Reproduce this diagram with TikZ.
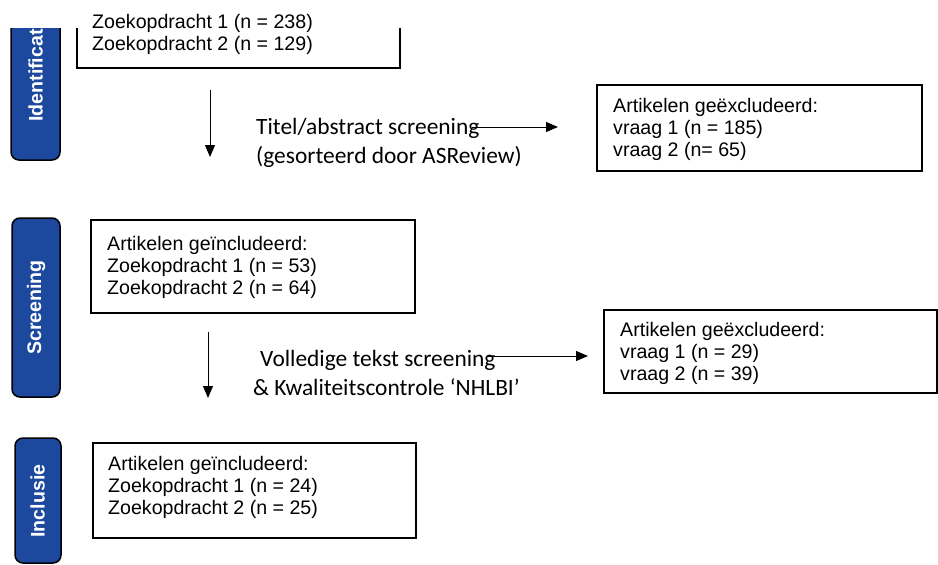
\documentclass[tikz,border=0pt]{standalone}
\usepackage{fontspec}
\setmainfont{Liberation Sans}
\newfontfamily\calibrifont{Carlito}
\usetikzlibrary{arrows.meta}
\definecolor{barblue}{RGB}{28,72,158}
\begin{document}
\begin{tikzpicture}[x=1pt,y=-1pt,
  box/.style={draw=black,line width=1.8pt,inner sep=0pt,anchor=north west},
  bar/.style={draw=black,fill=barblue,line width=1.5pt,rounded corners=8pt},
  arial/.style={font=\fontsize{19.6}{22}\selectfont,anchor=base west,inner sep=0pt},
  cal/.style={font=\calibrifont\fontsize{23.4}{28}\selectfont,anchor=base west,inner sep=0pt},
  bartext/.style={font=\bfseries\fontsize{19.6}{22}\selectfont,text=white,rotate=90,inner sep=0pt},
  flow/.style={line width=1pt,-{Triangle[length=12pt,width=10pt]}}]
\useasboundingbox[fill=white] (0,0) rectangle (938,565);

% clipped top part
\begin{scope}
  \clip (0,28) rectangle (938,565);
  \draw[bar] (11,-20) rectangle (60,160);
  \node[bartext,anchor=west] (lid) at (35.5,122) {Identification};
  \node[box,minimum width=323pt,minimum height=107pt] (b0) at (76,-40) {};
\end{scope}
\node[arial] (t0a) at (92,28) {Zoekopdracht 1 (n = 238)};
\node[arial] (t0b) at (92,50) {Zoekopdracht 2 (n = 129)};

% bars
\draw[bar] (12,218) rectangle (60,397);
\node[bartext] (lsc) at (36,307.5) {Screening};
\draw[bar] (15,438) rectangle (61,563);
\node[bartext] (lin) at (37.5,501) {Inclusie};

% boxes
\node[box,minimum width=325pt,minimum height=86pt] (b1) at (596,84) {};
\node[arial] (t1a) at (613,112) {Artikelen geëxcludeerd:};
\node[arial] (t1b) at (613,134) {vraag 1 (n = 185)};
\node[arial] (t1c) at (613,156) {vraag 2 (n= 65)};

\node[box,minimum width=324pt,minimum height=93pt] (b2) at (90,219) {};
\node[arial] (t2a) at (107,250) {Artikelen geïncludeerd:};
\node[arial] (t2b) at (107,272) {Zoekopdracht 1 (n = 53)};
\node[arial] (t2c) at (107,294) {Zoekopdracht 2 (n = 64)};

\node[box,minimum width=333pt,minimum height=83pt] (b3) at (603,309) {};
\node[arial] (t3a) at (620,336) {Artikelen geëxcludeerd:};
\node[arial] (t3b) at (620,358) {vraag 1 (n = 29)};
\node[arial] (t3c) at (620,380) {vraag 2 (n = 39)};

\node[box,minimum width=323pt,minimum height=95pt] (b4) at (92,442) {};
\node[arial] (t4a) at (108,470) {Artikelen geïncludeerd:};
\node[arial] (t4b) at (108,492) {Zoekopdracht 1 (n = 24)};
\node[arial] (t4c) at (108,514) {Zoekopdracht 2 (n = 25)};

% step labels
\node[cal] (c1) at (256,134) {Titel/abstract screening};
\node[cal] (c2) at (256,163) {(gesorteerd door ASReview)};
\node[cal] (c3) at (260,366) {Volledige tekst screening};
\node[cal] (c4) at (253,395) {\& Kwaliteitscontrole ‘NHLBI’};

% arrows
\coordinate (a1s) at (210,90);  \coordinate (a1e) at (210,157);
\coordinate (r1s) at (472,127); \coordinate (r1e) at (558,127);
\coordinate (a2s) at (208,332); \coordinate (a2e) at (208,398);
\coordinate (r2s) at (487,356); \coordinate (r2e) at (588,356);
\draw[flow] (a1s) -- (a1e);
\draw[flow] (r1s) -- (r1e);
\draw[flow] (a2s) -- (a2e);
\draw[flow] (r2s) -- (r2e);
\end{tikzpicture}
\end{document}
